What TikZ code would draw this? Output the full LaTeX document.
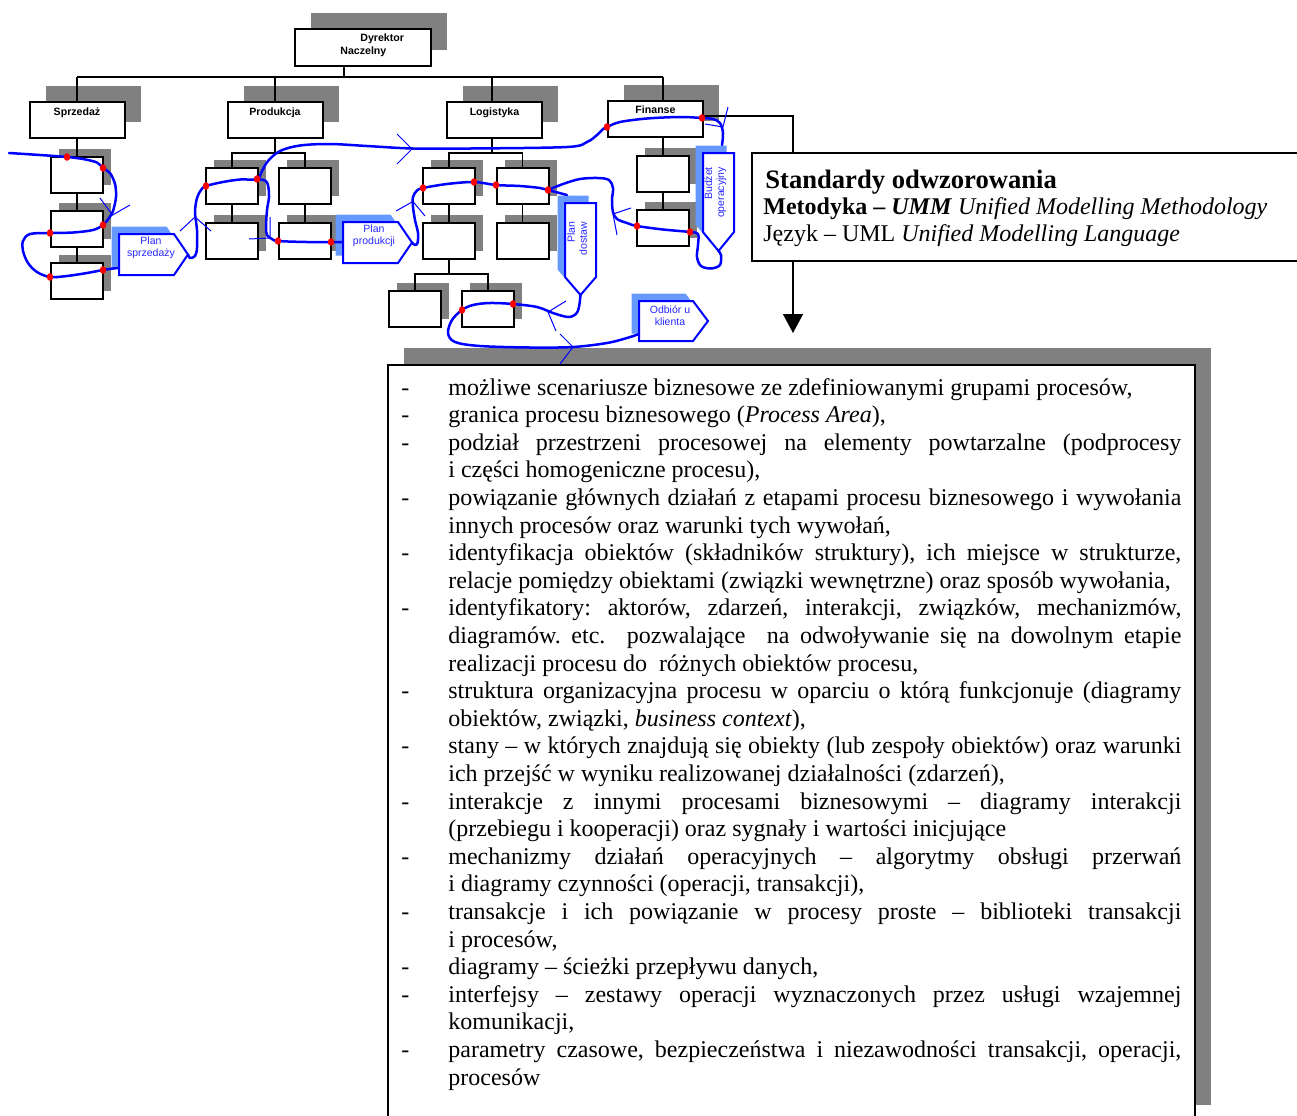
\documentclass[tikz,border=0pt]{standalone}
\usepackage{fontspec}
\setmainfont{Liberation Serif}
\newfontfamily\arialf{Liberation Sans}
\usetikzlibrary{shadows,arrows.meta}
\definecolor{shgray}{RGB}{128,128,128}
\definecolor{lblue}{RGB}{102,153,255}
\definecolor{flowblue}{RGB}{0,0,255}
\definecolor{labblue}{RGB}{40,40,255}
\definecolor{dotred}{RGB}{255,0,0}
% one line of the bulleted list: dash column + text column
\newcommand\itemj[1]{\hbox{\hbox to 23.5pt{-\hss}\hbox to 366.5pt{#1}}}
\newcommand\itemr[1]{\hbox{\hbox to 23.5pt{-\hss}#1}}
\newcommand\contj[1]{\hbox{\hbox to 23.5pt{\hss}\hbox to 366.5pt{#1}}}
\newcommand\contr[1]{\hbox{\hbox to 23.5pt{\hss}#1}}
\begin{document}
\begin{tikzpicture}[x=0.5pt, y=-0.5pt,
  conn/.style={line width=0.75pt, draw=black},
  orgbox/.style={draw=black, line width=1pt, fill=white, inner sep=0pt},
  bigsh/.style={drop shadow={shadow xshift=8pt, shadow yshift=8pt, fill=shgray, opacity=1}},
  smallsh/.style={drop shadow={shadow xshift=4pt, shadow yshift=4pt, fill=shgray, opacity=1}},
  orglabel/.style={font=\arialf\bfseries\fontsize{5.3}{6.5}\selectfont, inner sep=0pt},
  lvl1/.style={orgbox, bigsh, minimum width=47.5pt, minimum height=18pt},
  unitbox/.style={orgbox, smallsh, minimum width=26pt, minimum height=18pt},
  pent/.style={draw=flowblue, line width=1pt, fill=white,
    drop shadow={shadow xshift=-3.75pt, shadow yshift=3.75pt, fill=lblue, opacity=1}},
  plabel/.style={font=\arialf\fontsize{5.25}{6}\selectfont, text=labblue, align=center, inner sep=0pt},
  flowline/.style={draw=flowblue, line width=1.25pt, line cap=round, line join=round},
  vmark/.style={draw=flowblue, line width=0.5pt},
  reddot/.style={fill=dotred}
]
\useasboundingbox (0,0) rectangle (1297,1115);

% ---------- organisation chart ----------
\node[orgbox, bigsh, minimum width=68pt, minimum height=18.5pt] (dn) at (363,47.5) {};
\node[orglabel, align=left, anchor=north west] (dntext) at (340,33) {\hspace*{10pt}Dyrektor\\Naczelny};

\node[lvl1, label={[orglabel, anchor=north, yshift=-3pt]north:Sprzedaż}] (sp) at (77,120) {};
\node[lvl1, label={[orglabel, anchor=north, yshift=-3pt]north:Produkcja}] (pr) at (275,120) {};
\node[lvl1, label={[orglabel, anchor=north, yshift=-3pt]north:Logistyka}] (lo) at (494.5,120) {};
\node[lvl1, label={[orglabel, anchor=north, yshift=-2.5pt]north:Finanse}] (fi) at (655.5,119) {};

\node[unitbox] (s1) at (77,175) {};
\node[unitbox] (s2) at (77,229) {};
\node[unitbox] (s3) at (77,280.5) {};
\node[unitbox] (p1) at (232,186) {};
\node[unitbox] (p2) at (305,186) {};
\node[unitbox] (p3) at (232,240.5) {};
\node[unitbox] (p4) at (305,240.5) {};
\node[unitbox] (l1) at (449,186) {};
\node[unitbox] (l2) at (522.5,186) {};
\node[unitbox] (l3) at (449,240.5) {};
\node[unitbox] (l4) at (522.5,240.5) {};
\node[unitbox] (l5) at (415,309) {};
\node[unitbox] (l6) at (488,309) {};
\node[unitbox] (f1) at (663,173.5) {};
\node[unitbox] (f2) at (663,228) {};

\coordinate (bus) at (77,77);
\coordinate (pj) at (275,153);
\coordinate (lj) at (492,153);
\coordinate (lj2) at (449,274);
\draw[conn] ([xshift=-9.5pt]dn.south) -- ([xshift=-9.5pt]dn.south |- bus);
\draw[conn] (sp.north |- bus) -- ([xshift=3.75pt]fi.north |- bus);
\draw[conn] (sp.north) -- (sp.north |- bus);
\draw[conn] (pr.north) -- (pr.north |- bus);
\draw[conn] ([xshift=-1.25pt]lo.north) -- ([xshift=-1.25pt]lo.north |- bus);
\draw[conn] ([xshift=3.75pt]fi.north) -- ([xshift=3.75pt]fi.north |- bus);
\draw[conn] (sp.south) -- (s1.north) (s1.south) -- (s2.north) (s2.south) -- (s3.north);
\draw[conn] (pr.south) -- (pj);
\draw[conn] (p1.north) |- (pj) -| (p2.north);
\draw[conn] (p1.south) -- (p3.north) (p2.south) -- (p4.north);
\draw[conn] ([xshift=-1.25pt]lo.south) -- (lj);
\draw[conn] (l1.north) |- (lj) -| (l2.north);
\draw[conn] (l1.south) -- (l3.north) (l2.south) -- (l4.north);
\draw[conn] (l3.south) -- (lj2);
\draw[conn] (l5.north) |- (lj2) -| (l6.north);
\draw[conn] ([xshift=3.75pt]fi.south) -- (f1.north) (f1.south) -- (f2.north);

% ---------- standards box ----------
\node[orgbox, minimum width=279pt, minimum height=54pt] (std) at (1031,207) {};
\node[anchor=base west, inner sep=0pt, font=\bfseries\fontsize{13.3}{15}\selectfont] (stdt) at (765,188) {Standardy odwzorowania};
\node[anchor=base west, inner sep=0pt, font=\fontsize{12}{14}\selectfont] (stdm) at (763,214) {\textbf{Metodyka – \textit{UMM}} \textit{Unified Modelling Methodology}};
\node[anchor=base west, inner sep=0pt, font=\fontsize{12}{14}\selectfont] (stdj) at (763,241) {Język – UML \textit{Unified Modelling Language}};
\coordinate (arrowend) at (793,333);
\draw[conn] ([yshift=1.5pt]fi.east) -| ([xshift=-119pt]std.north);
\draw[conn, -{Triangle[width=10pt, length=9.5pt]}] ([xshift=-119pt]std.south) -- (arrowend);

% ---------- list box ----------
\node[orgbox, drop shadow={shadow xshift=8pt, shadow yshift=8.5pt, fill=shgray, opacity=1},
      minimum width=403.5pt, minimum height=378.5pt] (list) at (791.5,743.5) {};
\node[anchor=base west, inner sep=0pt, font=\fontsize{12}{13.8}\selectfont] (items) at (401,395) {\vtop{%
  \frenchspacing\baselineskip=13.8pt\lineskiplimit=-\maxdimen\lineskip=0pt
  \itemr{możliwe scenariusze biznesowe ze zdefiniowanymi grupami procesów,}
  \itemr{granica procesu biznesowego (\textit{Process Area}),}
  \itemj{podział przestrzeni procesowej na elementy powtarzalne (podprocesy}
  \contr{i części homogeniczne procesu),}
  \itemj{powiązanie głównych działań z etapami procesu biznesowego i wywołania}
  \contr{innych procesów oraz warunki tych wywołań,}
  \itemj{identyfikacja obiektów (składników struktury), ich miejsce w strukturze,}
  \contr{relacje pomiędzy obiektami (związki wewnętrzne) oraz sposób wywołania,}
  \itemj{identyfikatory: aktorów, zdarzeń, interakcji, związków, mechanizmów,}
  \contj{diagramów. etc.\ \ pozwalające\ \ na odwoływanie się na dowolnym etapie}
  \contr{realizacji procesu do\ \ różnych obiektów procesu,}
  \itemj{struktura organizacyjna procesu w oparciu o którą funkcjonuje (diagramy}
  \contr{obiektów, związki, \textit{business context}),}
  \itemj{stany – w których znajdują się obiekty (lub zespoły obiektów) oraz warunki}
  \contr{ich przejść w wyniku realizowanej działalności (zdarzeń),}
  \itemj{interakcje z innymi procesami biznesowymi – diagramy interakcji}
  \contr{(przebiegu i kooperacji) oraz sygnały i wartości inicjujące}
  \itemj{mechanizmy działań operacyjnych – algorytmy obsługi przerwań}
  \contr{i diagramy czynności (operacji, transakcji),}
  \itemj{transakcje i ich powiązanie w procesy proste – biblioteki transakcji}
  \contr{i procesów,}
  \itemr{diagramy – ścieżki przepływu danych,}
  \itemj{interfejsy – zestawy operacji wyznaczonych przez usługi wzajemnej}
  \contr{komunikacji,}
  \itemj{parametry czasowe, bezpieczeństwa i niezawodności transakcji, operacji,}
  \contr{procesów}}};

% ---------- process documents ----------
\draw[pent] (119,234) -- (174,234) -- (188,254.5) -- (174,275) -- (119,275) -- cycle;
\draw[pent] (343,222) -- (398,222) -- (412,242.5) -- (398,263) -- (343,263) -- cycle;
\draw[pent] (565,203) -- (596,203) -- (596,277) -- (580.5,295) -- (565,277) -- cycle;
\draw[pent] (703,153) -- (734,153) -- (734,232) -- (718.5,251) -- (703,232) -- cycle;
\draw[pent] (639,301) -- (693,301) -- (708,321) -- (693,341) -- (639,341) -- cycle;
\node[plabel] (pstext) at (151,247.5) {Plan\\sprzedaży};
\node[plabel] (pptext) at (374,236) {Plan\\produkcji};
\node[plabel, rotate=90, align=right] (pdtext) at (577,238.5) {Plan\\dostaw};
\node[plabel, rotate=90, align=right] (botext) at (715.5,192.5) {Budżet\\operacyjny};
\node[plabel] (oktext) at (670,315.5) {Odbiór u\\klienta};

\coordinate (psin) at (119,268);
\coordinate (pstip) at (188,254.5);
\coordinate (ppin) at (343,242);
\coordinate (pptip) at (412,242.5);
\coordinate (pdin) at (567,195);
\coordinate (pdtip) at (580.5,295);
\coordinate (botop) at (722,145);
\coordinate (botip) at (718.5,251);
\coordinate (okin) at (639,334);

% ---------- flow of the process ----------
\coordinate (d1) at (67,157);
\coordinate (d2) at (103,168);
\coordinate (d3) at (103,225);
\coordinate (d4) at (50,233);
\coordinate (d5) at (50,277);
\coordinate (d6) at (103,270);
\coordinate (d7) at (206,186);
\coordinate (d8) at (257,179);
\coordinate (d9) at (278,241);
\coordinate (d10) at (331,242);
\coordinate (d11) at (423,188);
\coordinate (d12) at (474,182);
\coordinate (d13) at (496,185);
\coordinate (d14) at (548,190);
\coordinate (d15) at (607,127);
\coordinate (d16) at (702,118);
\coordinate (d17) at (637,226);
\coordinate (d18) at (690,232);
\coordinate (d19) at (462,310);
\coordinate (d20) at (513,304);
\coordinate (start) at (9,153);

\draw[flowline] plot[smooth, tension=0.55] coordinates {(start) (40,155) (d1) (83,159) (97,162.5) (d2) (110,173) (115,184) (116,197) (113,211) (109,218) (d3) (93,230) (73,232.5) (d4) (30,234) (23,241) (23,251) (28,263) (37,272) (d5) (67,276) (87,273) (d6) (113,268.5) (psin)};
\draw[flowline] plot[smooth, tension=0.55] coordinates {(pstip) (190,258) (195,256) (197,248) (197,230) (195,212) (197,198) (201,190) (d7) (223,182) (240,179.5) (d8) (262,171) (268,161) (280,151) (300,145.5) (330,144) (367,146) (413,148.5) (470,148.5) (567,147) (587,142) (597,135) (603,129) (d15) (620,122) (647,118.5) (680,117) (d16) (713,119) (720,123) (723,133) (botop)};
\draw[flowline] plot[smooth, tension=0.55] coordinates {(d8) (265,180.5) (268,185) (269,197) (267,210) (266,227) (267,235) (272,239) (d9) (307,242) (d10) (ppin)};
\draw[flowline] plot[smooth, tension=0.55] coordinates {(pptip) (415,245) (417.5,243) (418,233) (415,220) (413,207) (413,197) (417,190.5) (d11) (447,184) (d12) (d13) (520,186) (540,188) (d14) (pdin)};
\draw[flowline] plot[smooth, tension=0.55] coordinates {(botip) (721,255) (720,265) (711,268.5) (701,266) (697,257) (698,245) (698,234) (d18) (663,229.5) (d17) (627,223) (617,219) (613,212) (612,200) (613,188) (609,180) (598,178) (580,179) (563,184) (d14)};
\draw[flowline] plot[smooth, tension=0.55] coordinates {(pdtip) (579,307) (576,314) (568,317) (553,313) (537,307) (d20) (490,303) (473,305) (d19) (452,320) (448,333) (455,342) (480,346) (530,347.5) (573,347) (607,343) (627,338) (okin)};

% direction marks
\draw[vmark] (100,198) -- (112.5,215) -- (130,205);
\draw[vmark] (180,231) -- (195,217) -- (211,231);
\draw[vmark] (397,134) -- (412,149) -- (397,164);
\draw[vmark] (270,217) -- (270,238) -- (249,239);
\draw[vmark] (396,211) -- (413,201.5) -- (425,216);
\draw[vmark] (728,107) -- (723,127) -- (705,124);
\draw[vmark] (631,208) -- (613,214) -- (617,235);
\draw[vmark] (566,301) -- (548,312) -- (556,331);
\draw[vmark] (560,334) -- (573,347) -- (560,364);

% contact points
\foreach \d in {d1,d2,d3,d4,d5,d6,d7,d8,d9,d10,d11,d12,d13,d14,d15,d16,d17,d18,d19,d20}
  \fill[reddot] (\d) ellipse [x radius=1.6pt, y radius=1.9pt];
\end{tikzpicture}
\end{document}
